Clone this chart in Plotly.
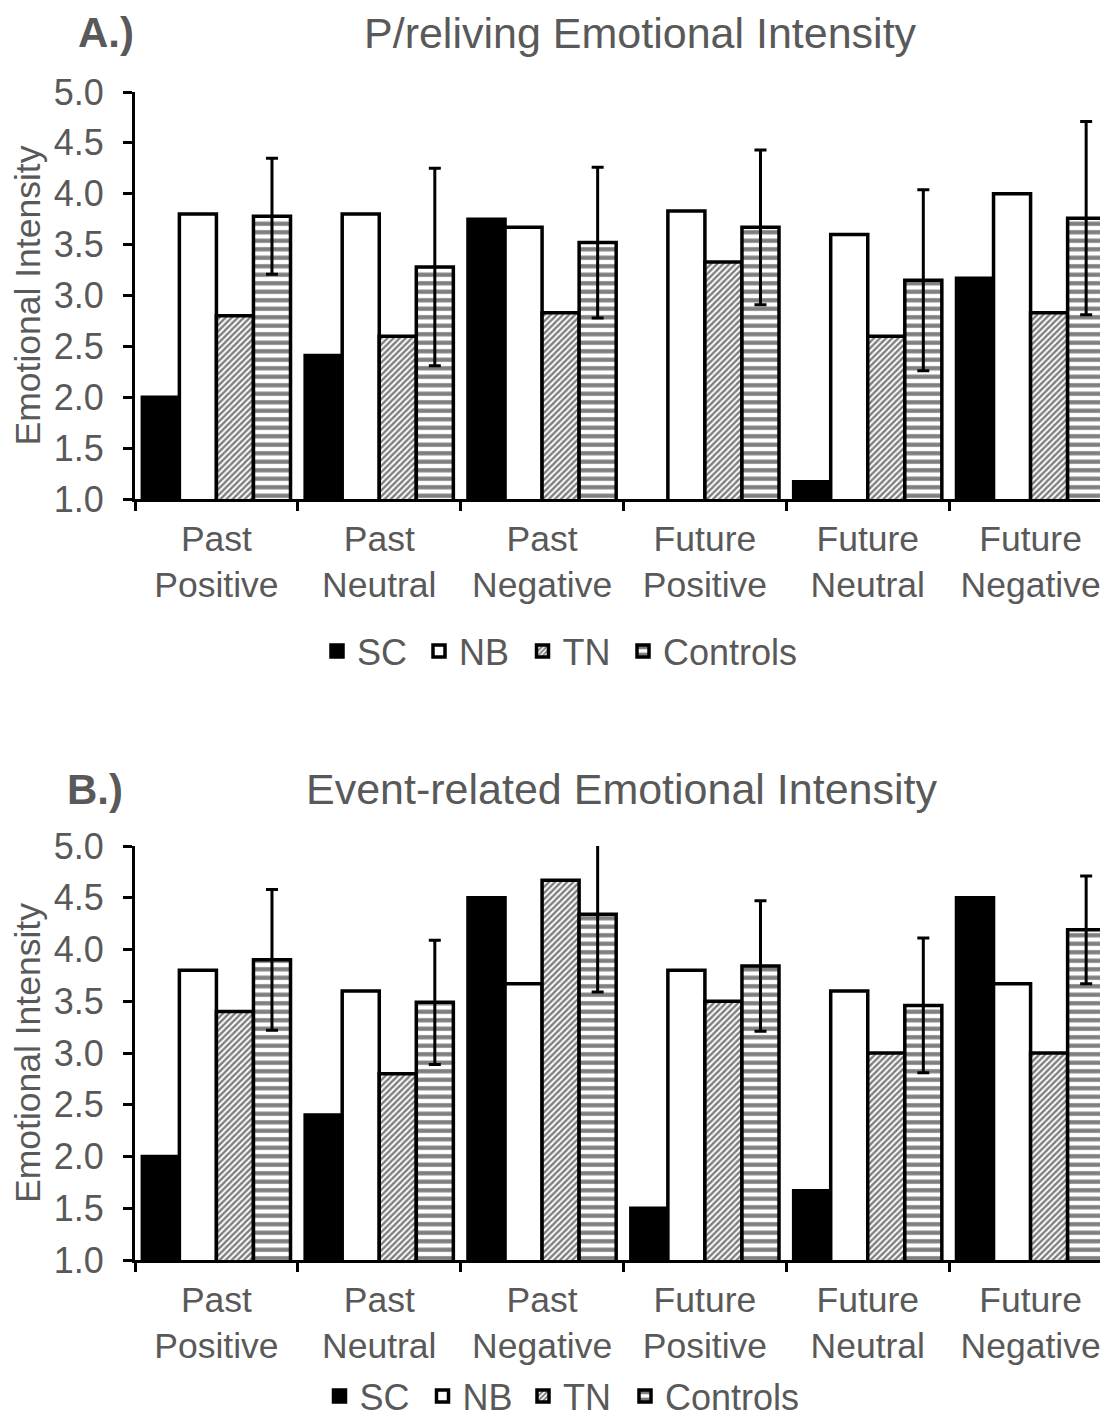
import plotly.graph_objects as go

categories = ["Past<br>Positive", "Past<br>Neutral", "Past<br>Negative",
              "Future<br>Positive", "Future<br>Neutral", "Future<br>Negative"]
groups = ["SC", "NB", "TN", "Controls"]

# Panel A: P/reliving Emotional Intensity
a_sc = [2.00, 2.41, 3.75, None, 1.17, 3.17]
a_nb = [3.80, 3.80, 3.67, 3.83, 3.60, 4.00]
a_tn = [2.80, 2.60, 2.83, 3.33, 2.60, 2.83]
a_ctrl = [3.78, 3.28, 3.52, 3.67, 3.15, 3.76]
a_ctrl_err = [0.57, 0.97, 0.74, 0.76, 0.89, 0.95]

# Panel B: Event-related Emotional Intensity
b_sc = [2.00, 2.40, 4.50, 1.50, 1.67, 4.50]
b_nb = [3.80, 3.60, 3.67, 3.80, 3.60, 3.67]
b_tn = [3.40, 2.80, 4.67, 3.50, 3.00, 3.00]
b_ctrl = [3.90, 3.49, 4.34, 3.84, 3.46, 4.19]
b_ctrl_err = [0.68, 0.60, 0.75, 0.63, 0.65, 0.52]

y_ticks = [1.0, 1.5, 2.0, 2.5, 3.0, 3.5, 4.0, 4.5, 5.0]

GREY = "#595959"
FONT = "Liberation Sans, Arial, sans-serif"
OFF = 8                      # page body margin offset
W, H = 1108 - OFF, 1426 - OFF

def px(x):
    return (x - OFF) / W

def py(y):
    return 1 - (y - OFF) / H

fig = go.Figure()

OUTLINE = dict(color="black", width=3.5)

def add_panel(sc, nb, tn, ctrl, err, xa, ya, legs):
    common = dict(xaxis=xa, yaxis=ya, showlegend=True)
    fig.add_trace(go.Bar(name=groups[0], x=categories, y=sc, legend=legs[0],
                         marker=dict(color="black", line=OUTLINE), **common))
    fig.add_trace(go.Bar(name=groups[1], x=categories, y=nb, legend=legs[1],
                         marker=dict(color="white", line=OUTLINE), **common))
    fig.add_trace(go.Bar(name=groups[2], x=categories, y=tn, legend=legs[2],
                         marker=dict(color="white", line=OUTLINE,
                                     pattern=dict(shape="/", fgcolor="black", bgcolor="white",
                                                  size=4.3, solidity=0.55, fillmode="overlay")),
                         **common))
    fig.add_trace(go.Bar(name=groups[3], x=categories, y=ctrl, legend=legs[3],
                         marker=dict(color="white", line=OUTLINE,
                                     pattern=dict(shape="-", fgcolor="black", bgcolor="white",
                                                  size=8.5, solidity=0.5, fillmode="overlay")),
                         error_y=dict(type="data", array=err, symmetric=True,
                                      color="black", thickness=3, width=6),
                         **common))

add_panel(a_sc, a_nb, a_tn, a_ctrl, a_ctrl_err, "x", "y",
          ["legend", "legend2", "legend3", "legend4"])
add_panel(b_sc, b_nb, b_tn, b_ctrl, b_ctrl_err, "x2", "y2",
          ["legend5", "legend6", "legend7", "legend8"])

xr = [-0.5, 5.5 - 4 / 163]

xcommon = dict(type="category", range=xr, domain=[px(135), 1], showline=True,
               linecolor="black", linewidth=3, ticks="outside", tickson="boundaries",
               ticklen=9, tickwidth=3, tickcolor="black", showgrid=False,
               ticklabelstandoff=6, automargin=False,
               tickfont=dict(size=35.5, color=GREY, family=FONT), fixedrange=True)
ycommon = dict(range=[1, 5], tickvals=y_ticks, ticktext=[f"{v:.1f}" for v in y_ticks],
               showline=True, linecolor="black", linewidth=3, ticks="outside",
               ticklen=9, tickwidth=3, tickcolor="black", showgrid=False, zeroline=False,
               ticklabelstandoff=12, automargin=False,
               tickfont=dict(size=36, color=GREY, family=FONT),
               title=dict(text="Emotional Intensity", font=dict(size=35.5, color=GREY, family=FONT),
                          standoff=4))

def leg(xc, y, anchor):
    return dict(orientation="h", xanchor="left", yanchor=anchor,
                x=px(xc - 19), y=y,
                font=dict(size=36, color=GREY, family=FONT), itemwidth=30,
                bgcolor="rgba(0,0,0,0)", borderwidth=0)

legend_a_x = [336, 438, 541.5, 642]
legend_b_x = [338.5, 441.5, 542, 644]
legend_a_y = 651

legends = {}
names = ["legend", "legend2", "legend3", "legend4", "legend5", "legend6", "legend7", "legend8"]
for i, xc in enumerate(legend_a_x):
    legends[names[i]] = leg(xc, py(legend_a_y), "middle")
for i, xc in enumerate(legend_b_x):
    legends[names[4 + i]] = leg(xc, 0, "bottom")

fig.update_layout(
    width=W, height=H,
    margin=dict(l=0, r=0, t=0, b=0, autoexpand=False),
    paper_bgcolor="white", plot_bgcolor="white",
    font=dict(family=FONT, color=GREY),
    barmode="group", bargap=0.09, bargroupgap=0,
    xaxis=dict(**xcommon, anchor="y"),
    yaxis=dict(**ycommon, domain=[py(499), py(92)], anchor="x"),
    xaxis2=dict(**xcommon, anchor="y2"),
    yaxis2=dict(**ycommon, domain=[py(1260), py(846)], anchor="x2"),
    annotations=[
        dict(text="P/reliving Emotional Intensity", x=px(640), y=py(33), xref="paper", yref="paper",
             showarrow=False, font=dict(size=43, color=GREY, family=FONT), xanchor="center", yanchor="middle"),
        dict(text="<b>A.)</b>", x=px(106), y=py(33), xref="paper", yref="paper",
             showarrow=False, font=dict(size=42, color=GREY, family=FONT), xanchor="center", yanchor="middle"),
        dict(text="Event-related Emotional Intensity", x=px(621), y=py(789), xref="paper", yref="paper",
             showarrow=False, font=dict(size=43, color=GREY, family=FONT), xanchor="center", yanchor="middle"),
        dict(text="<b>B.)</b>", x=px(95), y=py(789), xref="paper", yref="paper",
             showarrow=False, font=dict(size=42, color=GREY, family=FONT), xanchor="center", yanchor="middle"),
    ],
    **legends,
)

fig.write_html("out.html")
